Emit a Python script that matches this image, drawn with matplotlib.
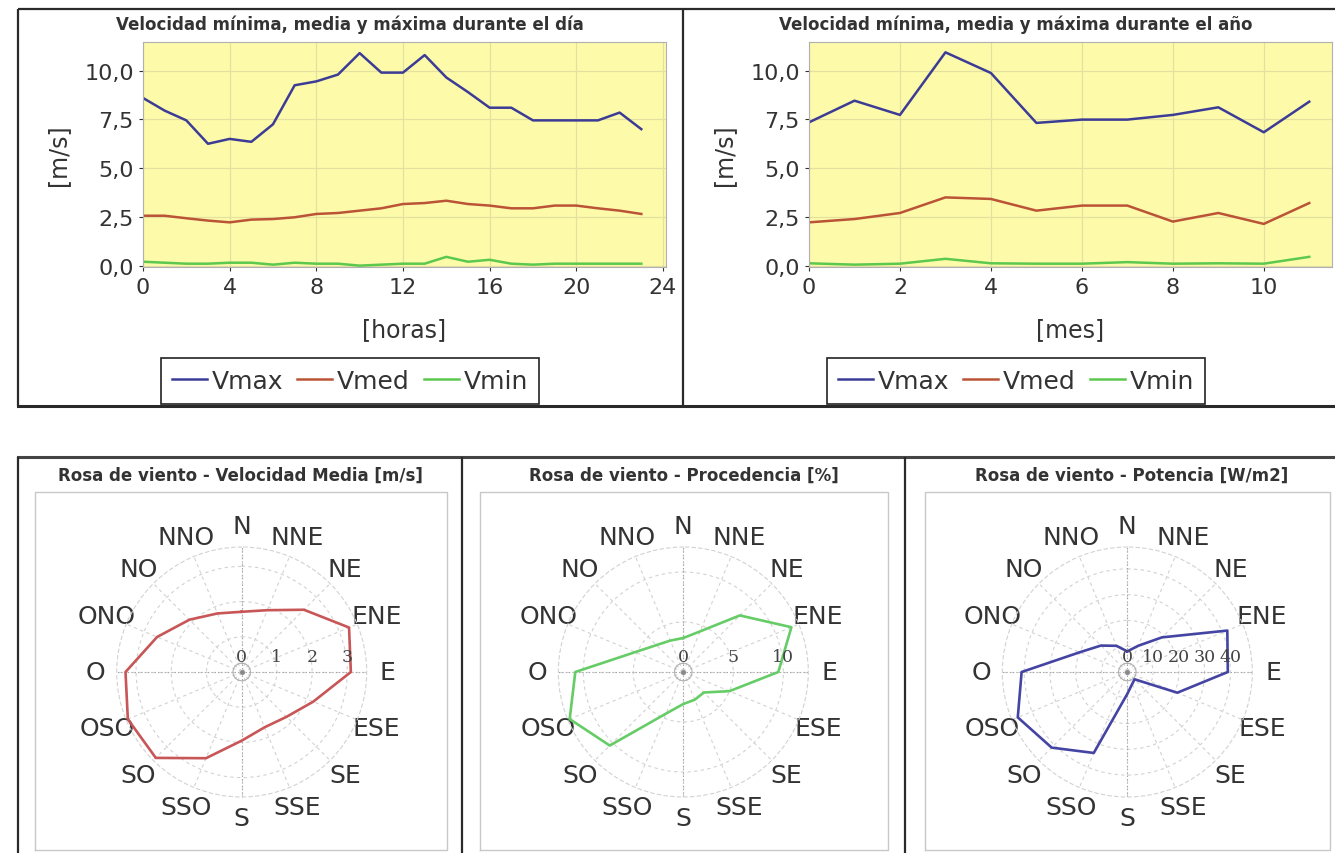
import numpy as np
import matplotlib.pyplot as plt
from matplotlib.transforms import offset_copy

W, H = 1335, 854  # figure size in pixels

# ---- data: daily profile ----
hours = list(range(24))
day_vmax = [8.6, 7.95, 7.45, 6.25, 6.5, 6.35, 7.25, 9.25, 9.45, 9.8, 10.9, 9.9,
            9.9, 10.8, 9.65, 8.9, 8.1, 8.1, 7.45, 7.45, 7.45, 7.45, 7.85, 7.0]
day_vmed = [2.56, 2.56, 2.43, 2.31, 2.22, 2.36, 2.39, 2.48, 2.65, 2.7, 2.82, 2.94,
            3.16, 3.21, 3.33, 3.16, 3.08, 2.94, 2.94, 3.08, 3.08, 2.94, 2.82, 2.65]
day_vmin = [0.2, 0.15, 0.1, 0.1, 0.15, 0.15, 0.05, 0.15, 0.1, 0.1, 0.0, 0.05,
            0.1, 0.1, 0.45, 0.2, 0.3, 0.1, 0.05, 0.1, 0.1, 0.1, 0.1, 0.1]

# ---- data: yearly profile ----
months = list(range(12))
year_vmax = [7.35, 8.46, 7.73, 10.94, 9.88, 7.32, 7.49, 7.49, 7.73, 8.12, 6.84, 8.41]
year_vmed = [2.22, 2.39, 2.7, 3.5, 3.42, 2.82, 3.08, 3.08, 2.26, 2.7, 2.14, 3.21]
year_vmin = [0.12, 0.05, 0.1, 0.35, 0.12, 0.1, 0.1, 0.18, 0.1, 0.12, 0.1, 0.45]

series_names = ['Vmax', 'Vmed', 'Vmin']
ytick_values = [0, 2.5, 5, 7.5, 10]
ytick_labels = ['0,0', '2,5', '5,0', '7,5', '10,0']

# ---- data: wind roses (16 directions, clockwise from N) ----
directions = ['N', 'NNE', 'NE', 'ENE', 'E', 'ESE', 'SE', 'SSE',
              'S', 'SSO', 'SO', 'OSO', 'O', 'ONO', 'NO', 'NNO']
rose_speed = [1.71, 1.9, 2.5, 3.3, 3.1, 2.2, 1.8, 1.7,
              1.95, 2.65, 3.45, 3.5, 3.3, 2.6, 2.1, 1.8]
rose_freq = [3.4, 4.4, 8.0, 11.7, 9.5, 5.0, 2.9, 3.0,
             3.2, 4.5, 10.4, 12.3, 10.8, 5.2, 3.8, 3.4]
rose_power = [8, 11, 19, 42, 39, 21, 4, 5,
              8.5, 34, 41.5, 46, 41, 20, 14.5, 11]

yellow = '#fdfbaa'
line_colors = ['#3c3c96', '#bb5336', '#5cc84e']

fig = plt.figure(figsize=(W / 100, H / 100), dpi=100)
fig.patch.set_facecolor('white')


def box(left, top, right, bottom):
    return [left / W, 1 - bottom / H, (right - left) / W, (bottom - top) / H]


# frames drawn in pixel coordinates
bg = fig.add_axes([0, 0, 1, 1], zorder=-10)
bg.set_xlim(0, W)
bg.set_ylim(H, 0)
bg.axis('off')
frame = dict(color='#2a2a2a', lw=1.6, solid_capstyle='butt')
bg.plot([18, W], [10, 10], **frame)
bg.plot([18, 18], [10, 407], **frame)
bg.plot([683, 683], [10, 407], **frame)
bg.plot([18, W], [407, 407], color='#2a2a2a', lw=2.2)
bg.plot([18, W], [458, 458], color='#444444', lw=2.2)
bg.plot([18, 18], [458, H], **frame)
bg.plot([462, 462], [458, H], **frame)
bg.plot([905, 905], [458, H], **frame)
for l, r in [(35, 447), (480, 888), (925, 1330)]:
    bg.plot([l, r, r, l, l], [851, 851, 493, 493, 851], color='#c8c8c8', lw=1.0)


def line_panel(rect, x, ys, xlim, xticks, xlabel, title, panel_cx):
    ax = fig.add_axes(rect)
    ax.set_facecolor(yellow)
    for y, c, name in zip(ys, line_colors, series_names):
        ax.plot(x, y, color=c, lw=1.8, label=name)
    ax.set_xlim(*xlim)
    ax.set_ylim(-0.07, 11.47)
    ax.set_xticks(xticks)
    ax.set_yticks(ytick_values)
    ax.set_yticklabels(ytick_labels)
    ax.tick_params(labelsize=16, colors='#333333', length=3, width=0.8)
    ax.tick_params(axis='x', pad=4)
    ax.grid(True, color='#e4e0a0', lw=0.9)
    ax.set_axisbelow(True)
    for s in ax.spines.values():
        s.set_color('#b0b0b0')
        s.set_linewidth(0.8)
    # texts around the plot
    l, b, w, h = rect
    fig.text(panel_cx / W, 1 - 25 / H, title, ha='center', va='center',
             fontsize=12, fontweight='bold', color='#333333')
    fig.text((l * W - 85) / W, b + h / 2, '[m/s]', rotation=90, ha='center',
             va='center', fontsize=17, color='#333333')
    fig.text(l + w / 2, 1 - 330 / H, xlabel, ha='center', va='center',
             fontsize=17, color='#333333')
    leg = fig.legend(*ax.get_legend_handles_labels(), loc='center',
                     bbox_to_anchor=(panel_cx / W, 1 - 382 / H), ncol=3,
                     fontsize=18, fancybox=False, edgecolor='#222222',
                     handlelength=1.4, handletextpad=0.2, columnspacing=0.55,
                     borderpad=0.45, framealpha=1)
    leg.get_frame().set_linewidth(1.2)
    for t in leg.get_texts():
        t.set_color('#333333')
    return ax


line_panel(box(143, 43, 666, 268), hours, [day_vmax, day_vmed, day_vmin],
           (0, 24.14), [0, 4, 8, 12, 16, 20, 24], '[horas]',
           'Velocidad mínima, media y máxima durante el día', 350)
line_panel(box(809, 43, 1332, 268), months, [year_vmax, year_vmed, year_vmin],
           (0, 11.5), [0, 2, 4, 6, 8, 10], '[mes]',
           'Velocidad mínima, media y máxima durante el año', 1016)


def rose_panel(cx, cy, values, color, rmax, rticks, title, title_cx):
    R = 125
    ax = fig.add_axes(box(cx - R, cy - R, cx + R, cy + R), projection='polar')
    ax.set_facecolor('white')
    ax.set_theta_zero_location('N')
    ax.set_theta_direction(-1)
    ax.set_ylim(0, rmax)
    ax.set_thetagrids(np.arange(16) * 22.5, directions, fontsize=18,
                      color='#333333')
    ax.tick_params(axis='x', pad=8, length=0)
    ax.set_rgrids([t for t in rticks if t > 0])
    ax.set_yticklabels([])
    ax.tick_params(axis='y', length=0)
    ax.grid(True, color='#d2d2d2', lw=0.8, ls=(0, (3, 3)))
    ax.spines['polar'].set(color='#d2d2d2', lw=0.8, ls=(0, (3, 3)))
    theta = np.deg2rad(np.arange(16) * 22.5)
    for t in theta[::4]:
        ax.plot([t, t], [0, rmax], color='#a0a0a0', lw=0.8, ls=(0, (1, 2)))
    circ = np.linspace(0, 2 * np.pi, 80)
    ax.plot(circ, np.full_like(circ, 0.07 * rmax), color='#b0b0b0', lw=0.8)
    ax.plot([0], [0], 'o', color='#888888', ms=2.5)
    ax.plot(np.append(theta, theta[0]), np.append(values, values[0]),
            color=color, lw=1.9)
    trans = offset_copy(ax.transData, fig=fig, y=16, units='dots')
    for t in rticks:
        ax.text(np.pi / 2, t, str(t), transform=trans, ha='center',
                va='center', fontsize=12.5, family='DejaVu Serif',
                color='#444444')
    fig.text(title_cx / W, 1 - 476 / H, title, ha='center', va='center',
             fontsize=12, fontweight='bold', color='#333333')
    return ax


rose_panel(241.7, 673, rose_speed, '#c85656', 3.55, [0, 1, 2, 3],
           'Rosa de viento - Velocidad Media [m/s]', 240)
rose_panel(683.3, 673, rose_freq, '#66cc66', 12.5, [0, 5, 10],
           'Rosa de viento - Procedencia [%]', 684)
rose_panel(1127.3, 673, rose_power, '#4444a4', 48.5, [0, 10, 20, 30, 40],
           'Rosa de viento - Potencia [W/m2]', 1132)

fig.savefig('out.png', dpi=100)
